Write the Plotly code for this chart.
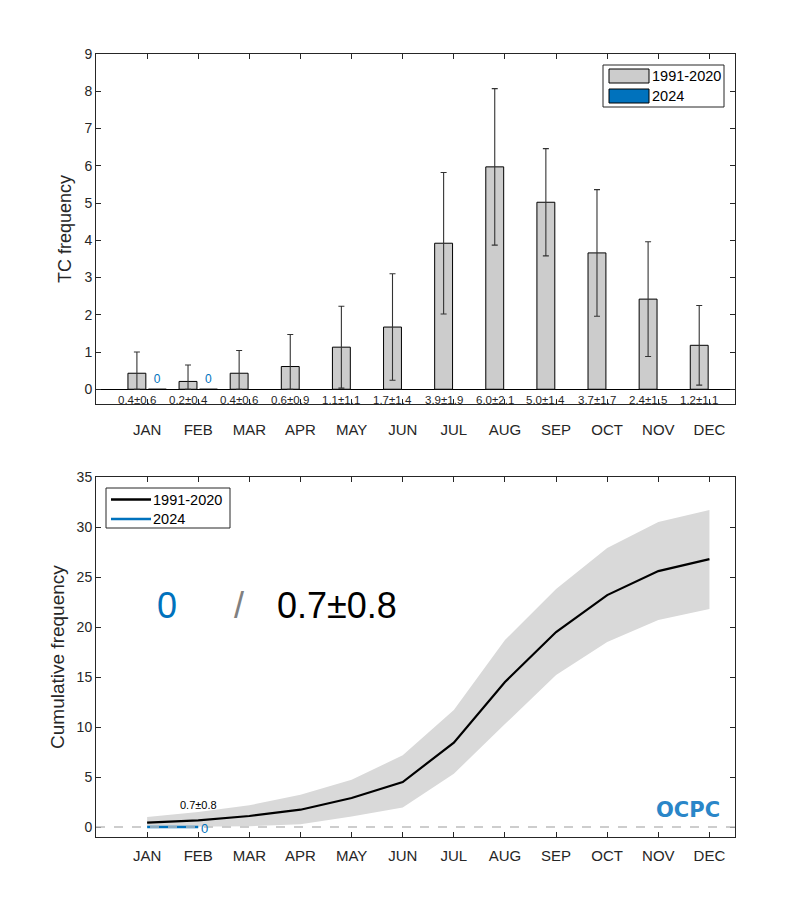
import plotly.graph_objects as go

months = ["JAN", "FEB", "MAR", "APR", "MAY", "JUN", "JUL", "AUG", "SEP", "OCT", "NOV", "DEC"]
month_idx = list(range(1, 13))

# Monthly climatology (1991-2020)
clim_mean = [0.43, 0.21, 0.43, 0.61, 1.13, 1.67, 3.92, 5.97, 5.02, 3.66, 2.42, 1.18]
clim_std = [0.57, 0.44, 0.61, 0.86, 1.10, 1.43, 1.90, 2.10, 1.44, 1.70, 1.54, 1.07]
clim_labels = ["0.4±0.6", "0.2±0.4", "0.4±0.6", "0.6±0.9", "1.1±1.1", "1.7±1.4",
               "3.9±1.9", "6.0±2.1", "5.0±1.4", "3.7±1.7", "2.4±1.5", "1.2±1.1"]

# 2024 observed (JAN-FEB)
obs_months = [1, 2]
obs_2024 = [0, 0]
obs_cum_2024 = [0, 0]

# Cumulative climatology
cum_mean = [0.43, 0.67, 1.10, 1.73, 2.90, 4.50, 8.44, 14.5, 19.5, 23.2, 25.6, 26.8]
cum_upper = [1.00, 1.50, 2.17, 3.23, 4.73, 7.17, 11.7, 18.7, 23.8, 27.9, 30.5, 31.7]
cum_lower = [0.00, 0.00, 0.07, 0.27, 1.05, 1.95, 5.33, 10.3, 15.2, 18.5, 20.7, 21.8]

series_names = ["1991-2020", "2024"]
cum_label_now = "0.7±0.8"
obs_label_now = "0"

FONT = "Liberation Sans, Arial, sans-serif"
BLUE = "#0072BD"
GRAY_BAR = "#cccccc"
AX = "#262626"

# layout geometry (pixels within the 800x900 figure)
M_L, M_R, M_T, M_B = 88, 73, 46, 71
PLOT_W = 800 - M_L - M_R
PLOT_H = 900 - M_T - M_B


def px(xp):
    return (xp - 8 - M_L) / PLOT_W


def py(yp):
    return (900 + 8 - M_B - yp) / PLOT_H


err_minus = [min(s, m) for s, m in zip(clim_std, clim_mean)]

fig = go.Figure()

fig.add_trace(go.Bar(
    x=month_idx, y=clim_mean, name=series_names[0],
    marker=dict(color=GRAY_BAR, line=dict(color="black", width=1)),
    error_y=dict(type="data", array=clim_std, arrayminus=err_minus, symmetric=False,
                 color="#333333", thickness=1.1, width=3),
    xaxis="x", yaxis="y", showlegend=False,
))
fig.add_trace(go.Bar(
    x=obs_months, y=obs_2024, name=series_names[1],
    marker=dict(color=BLUE, line=dict(color="black", width=1)),
    text=[str(v) for v in obs_2024], textposition="outside",
    textfont=dict(color=BLUE, size=12, family=FONT), cliponaxis=False,
    xaxis="x", yaxis="y", showlegend=False,
))

# Bottom panel
fig.add_trace(go.Scatter(
    x=month_idx, y=cum_lower, mode="lines", line=dict(width=0, color="#d9d9d9"),
    showlegend=False, hoverinfo="skip", xaxis="x2", yaxis="y2",
))
fig.add_trace(go.Scatter(
    x=month_idx, y=cum_upper, mode="lines", line=dict(width=0, color="#d9d9d9"),
    fill="tonexty", fillcolor="#d9d9d9",
    showlegend=False, hoverinfo="skip", xaxis="x2", yaxis="y2",
))
fig.add_trace(go.Scatter(
    x=month_idx, y=cum_mean, mode="lines", name=series_names[0],
    line=dict(color="black", width=2.2), xaxis="x2", yaxis="y2", showlegend=False,
))
fig.add_trace(go.Scatter(
    x=obs_months, y=obs_cum_2024, mode="lines", name=series_names[1],
    line=dict(color=BLUE, width=2.6), xaxis="x2", yaxis="y2", showlegend=False,
))

annotations = []
for i, lab in enumerate(clim_labels):
    annotations.append(dict(x=month_idx[i] - 0.2, y=-0.3, xref="x", yref="y", text=lab,
                            showarrow=False, font=dict(size=11.5, color=AX, family=FONT)))

annotations += [
    dict(x=obs_months[-1], y=cum_mean[1] + 1.5, xref="x2", yref="y2", text=cum_label_now,
         showarrow=False, font=dict(size=11, color="black", family=FONT)),
    dict(x=obs_months[-1], y=obs_cum_2024[-1], xref="x2", yref="y2", text=obs_label_now,
         xanchor="left", xshift=1, yshift=-1, showarrow=False, font=dict(size=13, color=BLUE, family=FONT)),
    dict(x=1.38, y=22.2, xref="x2", yref="y2", text=obs_label_now, showarrow=False,
         font=dict(size=36, color=BLUE, family=FONT)),
    dict(x=2.8, y=22.2, xref="x2", yref="y2", text="/", showarrow=False,
         font=dict(size=36, color="#808080", family=FONT)),
    dict(x=4.71, y=22.2, xref="x2", yref="y2", text=cum_label_now, showarrow=False,
         font=dict(size=36, color="black", family=FONT)),
    dict(x=px(688), y=py(810), xref="paper", yref="paper", text="<b>OCPC</b>", showarrow=False,
         xanchor="center", yanchor="middle",
         font=dict(size=21, color="#2a86c8", family="DejaVu Sans, sans-serif")),
]

shapes = [
    dict(type="line", xref="x2 domain", yref="y2", x0=0, x1=1, y0=0, y1=0,
         line=dict(color="#bdbdbd", width=1.3, dash="dash"), layer="above"),
]

# Legend (top panel): box with wide colour swatches
shapes.append(dict(type="rect", xref="paper", yref="paper", x0=px(603), x1=px(724), y0=py(107), y1=py(65),
                   fillcolor="white", line=dict(color=AX, width=1), layer="above"))
for k, col in enumerate([GRAY_BAR, BLUE]):
    y0 = 69 + k * 20
    shapes.append(dict(type="rect", xref="paper", yref="paper", x0=px(609), x1=px(649),
                       y0=py(y0 + 14), y1=py(y0), fillcolor=col,
                       line=dict(color="black", width=1), layer="above"))
    annotations.append(dict(x=px(650), y=py(y0 + 7), xref="paper", yref="paper", text=series_names[k],
                            xanchor="left", yanchor="middle", showarrow=False,
                            font=dict(size=14.5, color="black", family=FONT)))

# Legend (bottom panel): box with line samples
shapes.append(dict(type="rect", xref="paper", yref="paper", x0=px(106), x1=px(230), y0=py(528), y1=py(488),
                   fillcolor="white", line=dict(color=AX, width=1), layer="above"))
for k, col in enumerate(["black", BLUE]):
    yl = 499.5 + k * 19.5
    shapes.append(dict(type="line", xref="paper", yref="paper", x0=px(111), x1=px(151),
                       y0=py(yl), y1=py(yl), line=dict(color=col, width=2.6), layer="above"))
    annotations.append(dict(x=px(151), y=py(yl), xref="paper", yref="paper", text=series_names[k],
                            xanchor="left", yanchor="middle", showarrow=False,
                            font=dict(size=14.5, color="black", family=FONT)))

common_x = dict(
    range=[0, 12.5], tickmode="array", tickvals=month_idx, ticktext=months,
    showline=True, linecolor=AX, linewidth=1, mirror="ticks", ticks="inside",
    ticklen=5, tickcolor=AX, showgrid=False, zeroline=False,
    tickfont=dict(size=15, color=AX, family=FONT),
)

fig.update_layout(
    width=800, height=900,
    margin=dict(l=M_L, r=M_R, t=M_T, b=M_B),
    paper_bgcolor="white", plot_bgcolor="white",
    font=dict(family=FONT, color=AX),
    barmode="group", bargap=0.2, bargroupgap=0.125,
    xaxis=dict(**common_x, anchor="y", ticklabelstandoff=12),
    yaxis=dict(domain=[0.5528, 1.0], range=[-0.4, 9], dtick=1, tick0=0,
               showline=True, linecolor=AX, linewidth=1, mirror="ticks", ticks="inside",
               ticklen=5, tickcolor=AX, showgrid=False,
               zeroline=True, zerolinecolor="black", zerolinewidth=1,
               tickfont=dict(size=14, color=AX, family=FONT),
               title=dict(text="TC frequency", font=dict(size=18, color=AX, family=FONT), standoff=8)),
    xaxis2=dict(**common_x, anchor="y2", ticklabelstandoff=5),
    yaxis2=dict(domain=[0.0, 0.4596], range=[-1, 35], dtick=5, tick0=0,
                showline=True, linecolor=AX, linewidth=1, mirror="ticks", ticks="inside",
                ticklen=5, tickcolor=AX, showgrid=False, zeroline=False,
                tickfont=dict(size=14, color=AX, family=FONT),
                title=dict(text="Cumulative frequency", font=dict(size=19, color=AX, family=FONT), standoff=6)),
    annotations=annotations,
    shapes=shapes,
    showlegend=False,
)

fig.write_html("out.html")
